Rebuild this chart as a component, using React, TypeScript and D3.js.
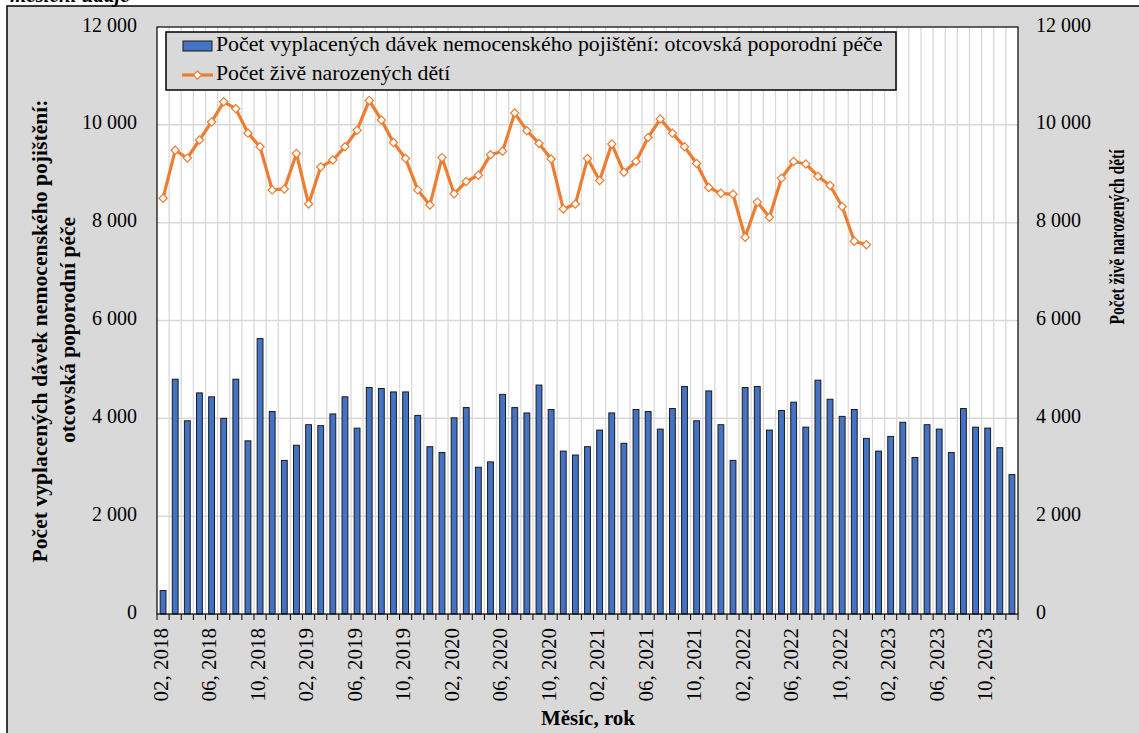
import * as d3 from "d3";

// monthly categories 02/2018 .. 12/2023
const years = [2018, 2019, 2020, 2021, 2022, 2023];
const months = ["01", "02", "03", "04", "05", "06", "07", "08", "09", "10", "11", "12"];
const categories = years.flatMap((y) => months.map((m) => `${m}, ${y}`)).slice(1);

// Počet vyplacených dávek – otcovská poporodní péče (02/2018 .. 12/2023)
const paternityBenefits = [
  480, 4800, 3950, 4520, 4440, 4000, 4800, 3540, 5630, 4140, 3140, 3450,
  3870, 3850, 4090, 4440, 3800, 4630, 4610, 4540, 4540, 4060, 3420, 3300,
  4010, 4220, 3000, 3110, 4490, 4220, 4110, 4680, 4180, 3330, 3250, 3420,
  3760, 4110, 3490, 4180, 4140, 3780, 4200, 4650, 3950, 4560, 3870, 3140,
  4630, 4650, 3760, 4160, 4330, 3820, 4780, 4390, 4040, 4180, 3590, 3330,
  3630, 3920, 3200, 3870, 3780, 3300, 4200, 3820, 3800, 3400, 2850,
];

// Počet živě narozených dětí (02/2018 .. 12/2022)
const liveBirths = [
  8500, 9480, 9320, 9690, 10060, 10470, 10330, 9830, 9550, 8670, 8690, 9415,
  8380, 9140, 9280, 9550, 9890, 10500, 10100, 9640, 9310, 8670, 8360, 9330,
  8590, 8840, 8970, 9390, 9460, 10240, 9880, 9620, 9300, 8280, 8380, 9310,
  8860, 9610, 9030, 9250, 9740, 10120, 9830, 9550, 9210, 8720, 8600, 8580,
  7700, 8420, 8110, 8910, 9250, 9200, 8950, 8760, 8330, 7620, 7550,
];

const yTicks = [0, 2000, 4000, 6000, 8000, 10000, 12000];

const legendLabels = [
  "Počet vyplacených dávek nemocenského pojištění: otcovská poporodní péče",
  "Počet živě narozených dětí",
];

export default function App() {
  const width = 1139;
  const height = 733;
  const left = 157;
  const right = 1018;
  const top = 27;
  const bottom = 614;
  const font = "'Liberation Serif', 'Times New Roman', serif";
  const blue = "#4472C4";
  const orange = "#ED7D31";
  const grey = "#d9d9d9";

  const x = d3.scaleBand<string>().domain(categories).range([left, right]).padding(0);
  const y = d3.scaleLinear().domain([0, 12000]).range([bottom, top]);
  const bw = x.bandwidth() * 0.48;
  const cx = (c: string) => (x(c) ?? 0) + x.bandwidth() / 2;

  const line = d3
    .line<number>()
    .x((_, i) => cx(categories[i]))
    .y((d) => y(d));

  const diamond = d3.symbol().type(d3.symbolSquare).size(34)() ?? "";

  // category boundaries for gridlines / ticks
  const bounds = categories.map((c) => x(c) ?? 0).concat([right]);

  const fmt = (v: number) => d3.format(",")(v).replace(/,/g, " ");

  return (
    <svg
      width={width}
      height={height}
      style={{ position: "absolute", left: 0, top: 0, fontFamily: font }}
    >
      {/* chart area */}
      <rect x={7} y={6} width={width} height={height} fill={grey} stroke="black" strokeWidth={1.5} />
      <text x={10} y={2} fontSize={21} fontWeight="bold" fontStyle="italic">
        měsíční údaje
      </text>

      {/* plot area */}
      <rect x={left} y={top} width={right - left} height={bottom - top} fill="white" />

      {/* vertical gridlines */}
      {bounds.slice(1, -1).map((b, i) => (
        <line key={"vg" + i} x1={b} x2={b} y1={top} y2={bottom} stroke={grey} strokeWidth={1.3} />
      ))}
      {/* horizontal gridlines */}
      {yTicks.slice(1, -1).map((t) => (
        <line key={"hg" + t} x1={left} x2={right} y1={y(t)} y2={y(t)} stroke={grey} strokeWidth={1.5} />
      ))}

      {/* bars */}
      {paternityBenefits.map((v, i) => (
        <rect
          key={"b" + i}
          x={cx(categories[i]) - bw / 2}
          y={y(v)}
          width={bw}
          height={bottom - y(v)}
          fill={blue}
          stroke="#1a1a1a"
          strokeWidth={1}
        />
      ))}

      {/* line series */}
      <path d={line(liveBirths) ?? ""} fill="none" stroke={orange} strokeWidth={3.2} strokeLinejoin="round" />
      {liveBirths.map((v, i) => (
        <path
          key={"m" + i}
          d={diamond}
          transform={`translate(${cx(categories[i])},${y(v)}) rotate(45)`}
          fill="white"
          stroke={orange}
          strokeWidth={1.2}
        />
      ))}

      {/* plot border */}
      <rect x={left} y={top} width={right - left} height={bottom - top} fill="none" stroke="black" strokeWidth={1.2} />

      {/* x axis ticks + labels */}
      {bounds.map((b, i) => (
        <line key={"xt" + i} x1={b} x2={b} y1={bottom} y2={bottom + 6} stroke="black" strokeWidth={1} />
      ))}
      {categories.map((c, i) =>
        i % 4 === 0 ? (
          <text
            key={"xl" + c}
            transform={`translate(${cx(c)},${628}) rotate(-90)`}
            textAnchor="end"
            dominantBaseline="middle"
            fontSize={21}
          >
            {c}
          </text>
        ) : null
      )}

      {/* y axes labels */}
      {yTicks.map((t) => (
        <g key={"yl" + t}>
          <text x={137} y={y(t)} textAnchor="end" dominantBaseline="middle" fontSize={20}>
            {fmt(t)}
          </text>
          <text x={1036} y={y(t)} textAnchor="start" dominantBaseline="middle" fontSize={20}>
            {fmt(t)}
          </text>
        </g>
      ))}

      {/* axis titles */}
      <text
        transform={`translate(47,331) rotate(-90)`}
        textAnchor="middle"
        fontSize={20}
        fontWeight="bold"
        textLength={463}
        lengthAdjust="spacingAndGlyphs"
      >
        Počet vyplacených dávek nemocenského pojištění:
      </text>
      <text
        transform={`translate(75,330) rotate(-90)`}
        textAnchor="middle"
        fontSize={20}
        fontWeight="bold"
        textLength={226}
        lengthAdjust="spacingAndGlyphs"
      >
        otcovská poporodní péče
      </text>
      <text
        transform={`translate(1124,237) rotate(-90)`}
        textAnchor="middle"
        fontSize={22}
        fontWeight="bold"
        textLength={175}
        lengthAdjust="spacingAndGlyphs"
      >
        Počet živě narozených dětí
      </text>
      <text x={588} y={725} textAnchor="middle" fontSize={21} fontWeight="bold">
        Měsíc, rok
      </text>

      {/* legend */}
      <g>
        <rect x={166} y={32} width={730} height={58} fill={grey} stroke="black" strokeWidth={1.5} />
        <rect x={183} y={41} width={29} height={10} fill={blue} stroke="#1a1a1a" strokeWidth={1} />
        <text x={216} y={46} dominantBaseline="middle" fontSize={21.8}>
          {legendLabels[0]}
        </text>
        <line x1={182} x2={213} y1={75} y2={75} stroke={orange} strokeWidth={3.2} />
        <path d={diamond} transform="translate(197.5,75) rotate(45)" fill="white" stroke={orange} strokeWidth={1.2} />
        <text x={216} y={75} dominantBaseline="middle" fontSize={21.8}>
          {legendLabels[1]}
        </text>
      </g>
    </svg>
  );
}
